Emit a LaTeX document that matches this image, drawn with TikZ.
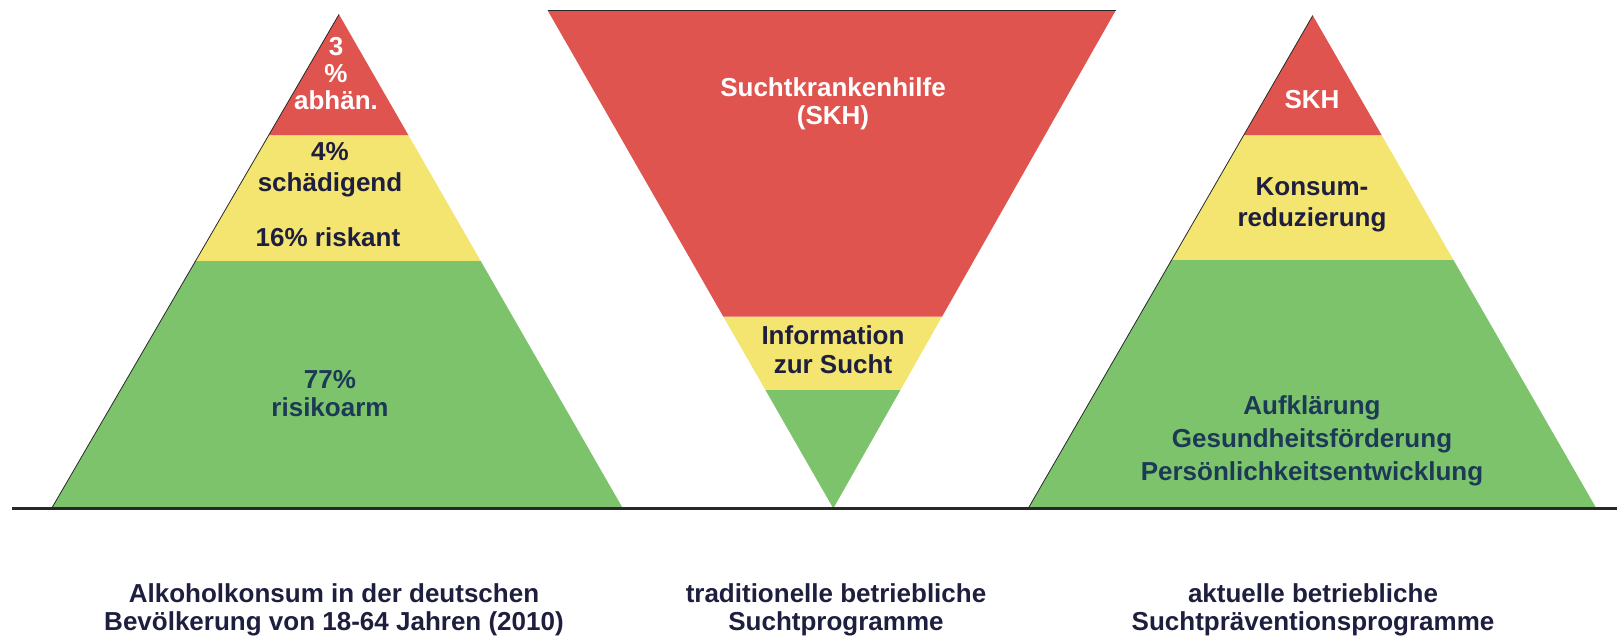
\documentclass[tikz,border=0pt]{standalone}
\usepackage{fontspec}
\setmainfont{Liberation Sans}
\usetikzlibrary{calc}
\definecolor{pred}{RGB}{224,84,80}
\definecolor{pyel}{RGB}{243,229,112}
\definecolor{pgrn}{RGB}{125,195,108}
\definecolor{tnavy}{RGB}{30,30,62}
\definecolor{tteal}{RGB}{28,58,86}
\definecolor{edge}{RGB}{40,40,40}
\tikzset{
  lbl/.style={align=center, font=\fontsize{26}{28}\selectfont\bfseries, inner sep=0pt},
  wlbl/.style={lbl, text=white},
  ylbl/.style={lbl, text=tnavy},
  glbl/.style={lbl, text=tteal},
  captxt/.style={lbl, text=tnavy},
  outl/.style={draw=edge, line width=0.8pt},
}
\begin{document}
\begin{tikzpicture}[x=1pt,y=-1pt]
\useasboundingbox (0,0) rectangle (1617,635);
% left pyramid
\coordinate (LA) at (339,14.4);
\coordinate (LL) at (51.6,508.4);
\coordinate (LR) at (622.9,508.4);
\fill[pgrn] (LL) -- (LR) -- ($(LA)!0.499!(LR)$) -- ($(LA)!0.499!(LL)$) -- cycle;
\fill[pyel] ($(LA)!0.499!(LL)$) -- ($(LA)!0.499!(LR)$) -- ($(LA)!0.2443!(LR)$) -- ($(LA)!0.2443!(LL)$) -- cycle;
\fill[pred] ($(LA)!0.2443!(LL)$) -- ($(LA)!0.2443!(LR)$) -- (LA) -- cycle;
\draw[outl] (LA) -- (LL);
% middle inverted triangle
\coordinate (MA) at (833.3,508.4);
\coordinate (ML) at (547.6,10.3);
\coordinate (MR) at (1115.8,10.3);
\fill[pgrn] (MA) -- ($(MA)!0.2381!(ML)$) -- ($(MA)!0.2381!(MR)$) -- cycle;
\fill[pyel] ($(MA)!0.2381!(ML)$) -- ($(MA)!0.385!(ML)$) -- ($(MA)!0.385!(MR)$) -- ($(MA)!0.2381!(MR)$) -- cycle;
\fill[pred] ($(MA)!0.385!(ML)$) -- (ML) -- (MR) -- ($(MA)!0.385!(MR)$) -- cycle;
\draw[outl] (ML) -- (MR);
% right pyramid
\coordinate (RA) at (1312.8,15.5);
\coordinate (RL) at (1028.2,508.4);
\coordinate (RR) at (1596.4,508.4);
\fill[pgrn] (RL) -- (RR) -- ($(RA)!0.4958!(RR)$) -- ($(RA)!0.4958!(RL)$) -- cycle;
\fill[pyel] ($(RA)!0.4958!(RL)$) -- ($(RA)!0.4958!(RR)$) -- ($(RA)!0.2426!(RR)$) -- ($(RA)!0.2426!(RL)$) -- cycle;
\fill[pred] ($(RA)!0.2426!(RL)$) -- ($(RA)!0.2426!(RR)$) -- (RA) -- cycle;
\draw[outl] (RA) -- (RL);
% baseline
\coordinate (B0) at (12.4,508.4);
\coordinate (B1) at (1617,508.4);
\draw[edge, line width=2.5pt] (B0) -- (B1);
% labels left
\node[wlbl, font=\fontsize{26}{27}\selectfont\bfseries] (t3) at (336,74) {3\\\%\\abhän.};
\node[ylbl, font=\fontsize{26}{31}\selectfont\bfseries] (t4) at (330,169.5) {4\%\\schädigend};
\node[ylbl] (t16) at (328,237.5) {16\% riskant};
\node[glbl] (t77) at (330,394) {77\%\\risikoarm};
% labels middle
\node[wlbl] (tskh) at (833,103.5) {Suchtkrankenhilfe\\(SKH)};
\node[ylbl, font=\fontsize{26}{29}\selectfont\bfseries] (tinfo) at (833,349.5) {Information\\zur Sucht};
% labels right
\node[wlbl] (tskh2) at (1312,100) {SKH};
\node[ylbl, font=\fontsize{26}{31}\selectfont\bfseries] (tkons) at (1312,205) {Konsum-\\reduzierung};
\node[glbl, font=\fontsize{26}{33}\selectfont\bfseries] (tauf) at (1312,441) {Aufklärung\\Gesundheitsförderung\\Persönlichkeitsentwicklung};
% captions
\node[captxt] (c1) at (334,609.5) {Alkoholkonsum in der deutschen\\Bevölkerung von 18-64 Jahren (2010)};
\node[captxt] (c2) at (836,609.5) {traditionelle betriebliche\\Suchtprogramme};
\node[captxt] (c3) at (1313,609.5) {aktuelle betriebliche\\Suchtpräventionsprogramme};
\end{tikzpicture}
\end{document}
